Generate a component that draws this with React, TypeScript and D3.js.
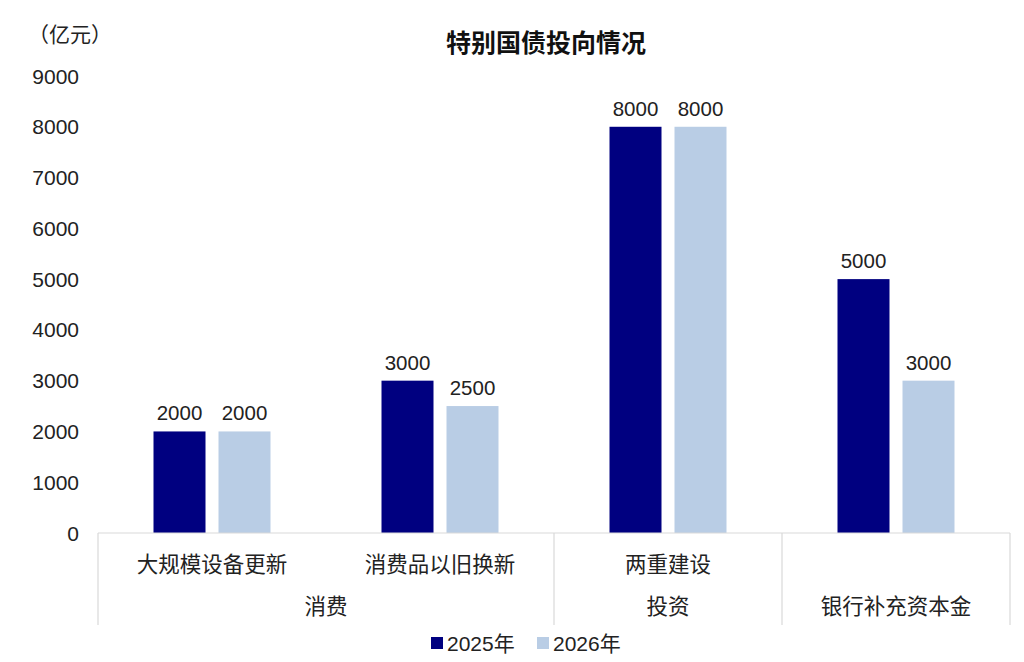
import { scaleBand, scaleLinear } from 'd3';

const CATEGORIES = ['大规模设备更新', '消费品以旧换新', '两重建设', '银行补充资本金'];
// second-row labels; the last category has only one level so it sits in row 2
const SUB_LABELS = ['大规模设备更新', '消费品以旧换新', '两重建设', ''];
const PARENT_LABELS = ['消费', '消费', '投资', '银行补充资本金'];
const SERIES = ['2025年', '2026年'];
const VALUES_2025 = [2000, 3000, 8000, 5000];
const VALUES_2026 = [2000, 2500, 8000, 3000];
const Y_TICKS = [0, 1000, 2000, 3000, 4000, 5000, 6000, 7000, 8000, 9000];

const W = 1024;
const H = 662;
const COLORS = ['#000080', '#B9CDE5'];
const TEXT = '#222222';
const LINE = '#D9D9D9';
const FONT = '"Liberation Sans", Arial, "Noto Sans CJK SC", sans-serif';
const CJK = '"Noto Sans CJK SC", "Liberation Sans", sans-serif';

const X0 = 98;
const X1 = 1010;
const Y0 = 533;
const YTOP = 76;
const AXIS_BOTTOM = 625;

export default function App() {
  const x = scaleBand<string>().domain(CATEGORIES).range([X0, X1]).padding(0);
  const inner = scaleBand<string>().domain(SERIES).range([-58.5, 58.5]).paddingInner(0.2).paddingOuter(0);
  const y = scaleLinear().domain([0, 9000]).range([Y0, YTOP]);
  const values = [VALUES_2025, VALUES_2026];

  // consecutive parent groups
  const groups: { label: string; start: number; end: number }[] = [];
  PARENT_LABELS.forEach((p, i) => {
    const last = groups[groups.length - 1];
    if (last && last.label === p) last.end = i;
    else groups.push({ label: p, start: i, end: i });
  });

  const bw = x.bandwidth();

  return (
    <svg width={W} height={H} style={{ position: 'absolute', left: 0, top: 0, background: '#fff' }}>
      <text x={546} y={41} textAnchor="middle" dominantBaseline="central" fontSize={25} fontWeight="bold" fontFamily={CJK} fill="#111">
        特别国债投向情况
      </text>
      <text x={28} y={33} dominantBaseline="central" fontSize={21} fontFamily={CJK} fill={TEXT}>
        （亿元）
      </text>

      {Y_TICKS.map((t) => (
        <text key={t} x={79} y={y(t)} textAnchor="end" dominantBaseline="central" fontSize={21} fontFamily={FONT} fill={TEXT}>
          {t}
        </text>
      ))}

      {SERIES.map((s, si) =>
        CATEGORIES.map((c, ci) => {
          const v = values[si][ci];
          const cx = x(c)! + bw / 2 + inner(s)!;
          return (
            <g key={s + c}>
              <rect x={cx} y={y(v)} width={inner.bandwidth()} height={Y0 - y(v)} fill={COLORS[si]} />
              <text
                x={cx + inner.bandwidth() / 2}
                y={y(v) - 11}
                textAnchor="middle"
                fontSize={20.5}
                fontFamily={FONT}
                fill={TEXT}
              >
                {v}
              </text>
            </g>
          );
        })
      )}

      <line x1={X0} x2={X1} y1={Y0} y2={Y0} stroke={LINE} strokeWidth={1.2} />
      {groups.map((g) => (
        <line key={'s' + g.start} x1={x(CATEGORIES[g.start])} x2={x(CATEGORIES[g.start])} y1={Y0} y2={AXIS_BOTTOM} stroke={LINE} strokeWidth={1.2} />
      ))}
      <line x1={X1} x2={X1} y1={Y0} y2={AXIS_BOTTOM} stroke={LINE} strokeWidth={1.2} />

      {CATEGORIES.map((c, i) => (
        <text key={c} x={x(c)! + bw / 2} y={562} textAnchor="middle" dominantBaseline="central" fontSize={21.5} fontFamily={CJK} fill={TEXT}>
          {SUB_LABELS[i]}
        </text>
      ))}
      {groups.map((g) => {
        const gx = (x(CATEGORIES[g.start])! + x(CATEGORIES[g.end])! + bw) / 2;
        return (
          <text key={g.label} x={gx} y={604} textAnchor="middle" dominantBaseline="central" fontSize={21.5} fontFamily={CJK} fill={TEXT}>
            {g.label}
          </text>
        );
      })}

      {SERIES.map((s, i) => {
        const lx = 431 + i * 106;
        return (
          <g key={s}>
            <rect x={lx} y={637} width={12} height={12} fill={COLORS[i]} />
            <text x={lx + 16} y={643} dominantBaseline="central" fontSize={21} fontFamily={FONT} fill={TEXT}>
              {s}
            </text>
          </g>
        );
      })}
    </svg>
  );
}
